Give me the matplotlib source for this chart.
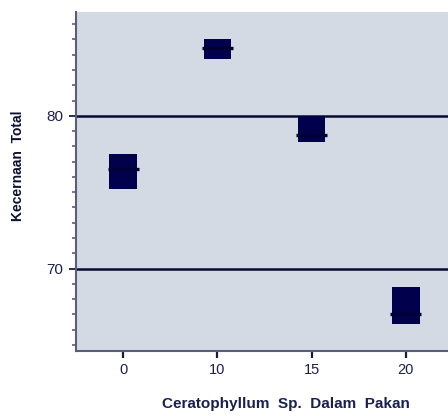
import numpy as np
import matplotlib
matplotlib.use('Agg')
from matplotlib import pyplot as plt
from matplotlib.ticker import MultipleLocator

# data
kategori = ['0', '10', '15', '20']
rata = [76.55, 84.45, 78.75, 67.0]
atas = [77.5, 85.0, 80.0, 68.8]
bawah = [75.2, 83.7, 78.3, 66.35]

navy = '#00004d'
teks = '#1a1f4e'

plt.rcParams['font.family'] = ['Liberation Sans', 'DejaVu Sans']

fig = plt.figure(figsize=(4.48, 4.16), dpi=100)
ax = fig.add_axes([76/448, 1-351/416, 377/448, 339/416])
ax.set_facecolor('#d3dae3')

x = np.arange(len(kategori))
tinggi = np.array(atas) - np.array(bawah)
ax.bar(x, tinggi, bottom=bawah, width=0.29, color=navy, zorder=3)
ax.hlines(rata, x - 0.165, x + 0.165, color='#000033', lw=2.4, zorder=4)

ax.set_xlim(-0.5, 3.5)
ax.set_ylim(64.6, 86.8)
ax.set_xticks(x)
ax.set_xticklabels(kategori)
ax.yaxis.set_major_locator(MultipleLocator(10))
ax.yaxis.set_minor_locator(MultipleLocator(1))

# garis horizontal di 70 dan 80
ax.yaxis.grid(True, which='major', color='#0a0a30', lw=1.8, zorder=2)
ax.set_axisbelow(True)

for s in ['top', 'right']:
    ax.spines[s].set_visible(False)
for s in ['left', 'bottom']:
    ax.spines[s].set_color('#5a5e78')
    ax.spines[s].set_linewidth(1.5)

ax.tick_params(axis='y', which='major', length=5, width=1.3, color='#1a1a40',
               labelsize=11, labelcolor=teks, pad=4)
ax.tick_params(axis='y', which='minor', length=3, width=1.2, color='#5a5e78')
ax.tick_params(axis='x', which='major', length=5, width=1.6, color='#1a1a40',
               labelsize=10.5, labelcolor=teks, pad=4)

fig.text(286/448, 1-404/416, 'Ceratophyllum  Sp.  Dalam  Pakan', ha='center', va='center',
         fontsize=11, fontweight='bold', color=teks)
fig.text(18/448, 1-166/416, 'Kecernaan  Total', ha='center', va='center', rotation=90,
         fontsize=10, fontweight='bold', color='#0d1030')

fig.savefig('out.png', dpi=100)
